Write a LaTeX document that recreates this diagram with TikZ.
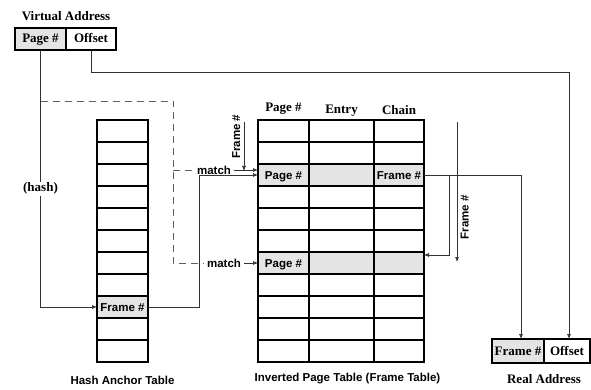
\documentclass[tikz,border=0pt]{standalone}
\usepackage{fontspec}
\setmainfont{Liberation Serif}
\setsansfont{Liberation Sans}
\usepackage{tikz}
\usetikzlibrary{arrows.meta, positioning, calc}
\definecolor{cellgray}{RGB}{228,228,228}
\definecolor{linegray}{RGB}{50,50,50}
\definecolor{dashgray}{RGB}{95,95,95}

\begin{document}
\begin{tikzpicture}[
  x=1pt, y=1pt,
  cell/.style={draw, line width=1.3pt, minimum height=22pt, inner sep=0pt,
               outer sep=0pt, text height=9pt, text depth=1pt,
               font=\sffamily\bfseries\fontsize{11.5}{13}\selectfont},
  hcell/.style={cell, minimum width=51pt},
  pcell/.style={cell, minimum width=51pt},
  ecell/.style={cell, minimum width=65pt},
  ccell/.style={cell, minimum width=50pt},
  shaded/.style={fill=cellgray},
  addr/.style={cell, font=\bfseries\fontsize{13}{15}\selectfont},
  lbl/.style={font=\bfseries\fontsize{13}{15}\selectfont},
  slbl/.style={font=\sffamily\bfseries\fontsize{11.5}{13}\selectfont},
  arr/.style={-{Latex[length=5pt,width=4pt]}, line width=0.7pt, draw=linegray},
  dline/.style={dash pattern=on 7pt off 5pt, line width=0.9pt, draw=dashgray},
]
\useasboundingbox (0,0) rectangle (591,-390);

%% --- Virtual address ---
\node[addr, shaded, minimum width=51pt] (vpage) at (40.5,-39) {Page \#};
\node[addr, minimum width=50pt, right=0pt of vpage] (voff) {Offset};
\node[lbl, above=4pt of vpage.north east] (vlabel) {Virtual Address};

%% --- Hash anchor table ---
\foreach \i in {1,...,11}
  \node[hcell] (h\i) at (122.5,{-131-22*(\i-1)}) {};
\node[hcell, shaded] (hf) at (h9) {Frame \#};
\node[slbl, below=11pt of h11] (hlabel) {Hash Anchor Table};

%% --- Inverted page table ---
\foreach \i in {1,...,11} {
  \node[pcell] (p\i) at (283.5,{-131-22*(\i-1)}) {};
  \node[ecell, right=0pt of p\i] (e\i) {};
  \node[ccell, right=0pt of e\i] (c\i) {};
}
\node[pcell, shaded] (pm) at (p3) {Page \#};
\node[ecell, shaded] (em) at (e3) {};
\node[ccell, shaded] (cm) at (c3) {Frame \#};
\node[pcell, shaded] (pn) at (p7) {Page \#};
\node[ecell, shaded] (en) at (e7) {};
\node[ccell, shaded] (cn) at (c7) {};

\node[lbl, above=2pt of p1] (hpage) {Page \#};
\node[lbl, above=0pt of e1] (hentry) {Entry};
\node[lbl, above=2pt of c1] (hchain) {Chain};
\node[slbl, below=8pt of e11, xshift=6pt] (plabel) {Inverted Page Table (Frame Table)};

%% --- Real address ---
\node[addr, shaded, minimum width=52pt, minimum height=24pt] (rframe) at (518,-351) {Frame \#};
\node[addr, minimum width=46pt, minimum height=24pt, right=0pt of rframe] (roff) {Offset};
\node[lbl, below=8pt of rframe.south east] (rlabel) {Real Address};

%% --- Hash path ---
\draw[arr] (vpage.south) |- (hf.west)
    node[lbl, pos=0.27, fill=white, inner sep=1pt] {(hash)};
\draw[arr] (hf.east) -- ++(51,0) |- (pm.west);

%% --- Match (dashed) ---
\coordinate (dsplit) at (40.5,-101);
\coordinate (dbot) at (173,-263);
\node[slbl] (m1) at (214,-170) {match};
\node[slbl] (m2) at (224,-263) {match};
\draw[dline] (dsplit) -| (dbot) -- (m2.west);
\draw[dline] (dbot |- m1.west) -- (m1.west);
\draw[arr] (m1.east) -- ([yshift=5pt]pm.west);
\draw[arr] (m2.east) -- (pn.west);

%% --- Frame # arrows ---
\coordinate (fa1) at (244,-122);
\coordinate (fa2) at (244,-171);
\draw[arr] (fa1) -- (fa2)
    node[slbl, pos=0.3, rotate=90, anchor=south] {Frame \#};
\coordinate (fb1) at (457,-122);
\coordinate (fb2) at (457,-262);
\draw[arr] (fb1) -- (fb2)
    node[slbl, pos=0.68, rotate=90, anchor=north] {Frame \#};

%% --- Chain and output ---
\draw[arr] (cm.east) -- ++(25,0) |- ([yshift=8pt]cn.east);
\draw[arr] (cm.east) -| ([xshift=3pt]rframe.north);
\coordinate (obend) at (voff.south |- 0,-72);
\draw[arr] (voff.south) -- (obend) -| ([xshift=2pt]roff.north);

\end{tikzpicture}
\end{document}
